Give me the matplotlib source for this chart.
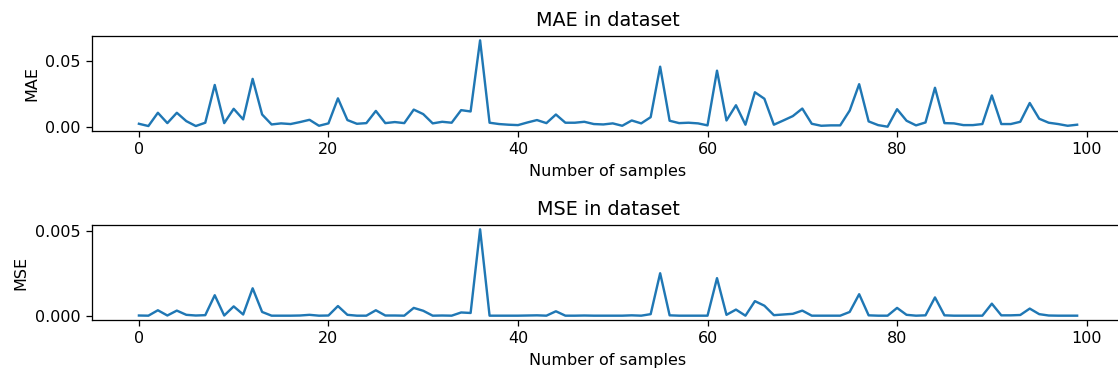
import numpy as np
import matplotlib
matplotlib.use("Agg")
import matplotlib.pyplot as plt

# per-sample errors
mae = [0.0027, 0.0010, 0.0110, 0.0032, 0.0110, 0.0047, 0.0010, 0.0035, 0.0320, 0.0032,
       0.0140, 0.0060, 0.0366, 0.0097, 0.0022, 0.0030, 0.0025, 0.0040, 0.0057, 0.0012,
       0.0030, 0.0219, 0.0055, 0.0027, 0.0032, 0.0124, 0.0032, 0.0040, 0.0032, 0.0134,
       0.0100, 0.0030, 0.0042, 0.0035, 0.0130, 0.0120, 0.0657, 0.0035, 0.0025, 0.0020,
       0.0017, 0.0037, 0.0055, 0.0032, 0.0097, 0.0035, 0.0035, 0.0042, 0.0025, 0.0022,
       0.0030, 0.0012, 0.0052, 0.0030, 0.0077, 0.0458, 0.0050, 0.0032, 0.0035, 0.0030,
       0.0015, 0.0428, 0.0052, 0.0167, 0.0020, 0.0265, 0.0216, 0.0020, 0.0052, 0.0085,
       0.0142, 0.0027, 0.0012, 0.0015, 0.0015, 0.0127, 0.0326, 0.0045, 0.0017, 0.0005,
       0.0137, 0.0050, 0.0015, 0.0037, 0.0299, 0.0032, 0.0030, 0.0017, 0.0017, 0.0025,
       0.0241, 0.0025, 0.0025, 0.0042, 0.0184, 0.0065, 0.0035, 0.0025, 0.0012, 0.0020]

mse = [0.00002, 0.00001, 0.00033, 0.00002, 0.00031, 0.00006, 0.00002, 0.00004, 0.00122, 0.00002,
       0.00056, 0.00008, 0.00163, 0.00023, 0.00001, 0.00001, 0.00001, 0.00002, 0.00006, 0.00001,
       0.00002, 0.00058, 0.00006, 0.00001, 0.00001, 0.00033, 0.00002, 0.00002, 0.00001, 0.00047,
       0.00030, 0.00001, 0.00002, 0.00001, 0.00020, 0.00017, 0.00512, 0.00001, 0.00001, 0.00001,
       0.00001, 0.00002, 0.00003, 0.00001, 0.00027, 0.00001, 0.00001, 0.00002, 0.00001, 0.00001,
       0.00001, 0.00001, 0.00003, 0.00001, 0.00010, 0.00252, 0.00003, 0.00001, 0.00001, 0.00001,
       0.00001, 0.00223, 0.00006, 0.00037, 0.00001, 0.00087, 0.00060, 0.00004, 0.00008, 0.00012,
       0.00031, 0.00001, 0.00001, 0.00001, 0.00001, 0.00023, 0.00128, 0.00003, 0.00001, 0.00001,
       0.00047, 0.00006, 0.00001, 0.00003, 0.00109, 0.00003, 0.00001, 0.00001, 0.00001, 0.00001,
       0.00072, 0.00003, 0.00003, 0.00005, 0.00043, 0.00010, 0.00002, 0.00001, 0.00001, 0.00001]

mae_ticks = [0.0, 0.05]
mse_ticks = [0.0, 0.005]

samples = np.arange(len(mae))

dpi = 115
fig = plt.figure(figsize=(1118 / dpi, 374 / dpi), dpi=dpi)
# the reference is cut off on the right, so the axes run past the edge
ax1 = fig.add_axes([0.0823, 0.6497, 0.9231, 0.2540])
ax2 = fig.add_axes([0.0823, 0.1444, 0.9231, 0.2540])

ax1.plot(samples, mae)
ax1.set_title("MAE in dataset")
ax1.set_xlabel("Number of samples")
ax1.set_ylabel("MAE")
ax1.set_yticks(mae_ticks, ["0.00", "0.05"])

ax2.plot(samples, mse)
ax2.set_title("MSE in dataset")
ax2.set_xlabel("Number of samples")
ax2.set_ylabel("MSE")
ax2.set_yticks(mse_ticks, ["0.000", "0.005"])

plt.savefig("out.png", dpi=dpi)
